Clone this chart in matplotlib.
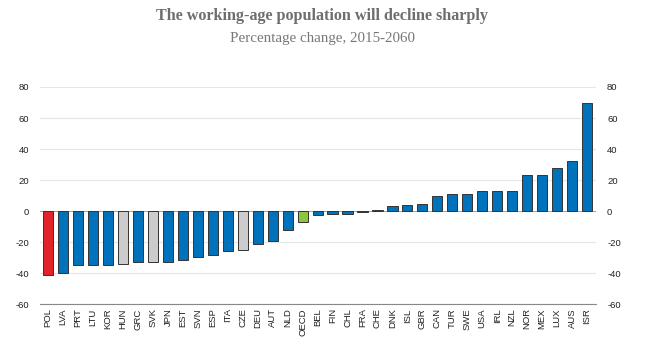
import matplotlib.pyplot as plt

plt.rcParams['font.family'] = ['Liberation Sans', 'DejaVu Sans']
plt.rcParams['axes.unicode_minus'] = False

# Country codes and change in working-age population (%), 2015-2060
countries = ['POL', 'LVA', 'PRT', 'LTU', 'KOR', 'HUN', 'GRC', 'SVK', 'JPN', 'EST',
             'SVN', 'ESP', 'ITA', 'CZE', 'DEU', 'AUT', 'NLD', 'OECD', 'BEL', 'FIN',
             'CHL', 'FRA', 'CHE', 'DNK', 'ISL', 'GBR', 'CAN', 'TUR', 'SWE', 'USA',
             'IRL', 'NZL', 'NOR', 'MEX', 'LUX', 'AUS', 'ISR']
values = [-41, -40, -35, -34.5, -34.5, -34, -33, -33, -33, -31.5,
          -29.5, -28, -26, -25, -21.5, -19, -12, -7, -2.5, -2,
          -2, -0.3, 0.5, 3, 4, 4.5, 10, 11, 11, 13,
          13, 13, 23, 23, 28, 32, 70]
highlight_red = ['POL']
highlight_gray = ['HUN', 'SVK', 'CZE']
highlight_green = ['OECD']

blue = '#0072bc'
colors = []
for c in countries:
    if c in highlight_red:
        colors.append('#e1232a')
    elif c in highlight_gray:
        colors.append('#cccccc')
    elif c in highlight_green:
        colors.append('#8cc63e')
    else:
        colors.append(blue)

fig = plt.figure(figsize=(6.45, 3.48), dpi=100)
ax = fig.add_axes([0.062, 0.126, 0.862, 0.624])

x = range(len(countries))
ax.bar(x, values, width=0.68, color=colors, edgecolor='#333333', linewidth=0.7, zorder=3)

ax.set_ylim(-60, 80)
ax.set_xlim(-0.55, len(countries) - 0.4)
ax.set_yticks(range(-60, 81, 20))
ax.yaxis.grid(True, color='#e6e6e6', linewidth=0.8, zorder=0)
ax.axhline(0, color='#999999', linewidth=0.6, zorder=2)

ax.set_xticks(list(x))
ax.set_xticklabels(countries, rotation=90, fontsize=6.8, color='#222222')
ax.tick_params(axis='x', length=0, pad=3)
ax.tick_params(axis='y', length=0, labelsize=6.8, labelcolor='#222222',
               left=True, right=True, labelleft=True, labelright=True, pad=8)

for s in ['top', 'left', 'right']:
    ax.spines[s].set_visible(False)
ax.spines['bottom'].set_color('#888888')
ax.spines['bottom'].set_linewidth(0.8)

fig.text(0.5, 0.955, 'The working-age population will decline sharply', ha='center',
         va='center', fontsize=11.6, fontweight='bold', color='#6e6e6e', family='Liberation Serif')
fig.text(0.5, 0.89, 'Percentage change, 2015-2060', ha='center', va='center',
         fontsize=10.8, color='#777777', family='Liberation Serif')

fig.savefig('out.png', dpi=100)
